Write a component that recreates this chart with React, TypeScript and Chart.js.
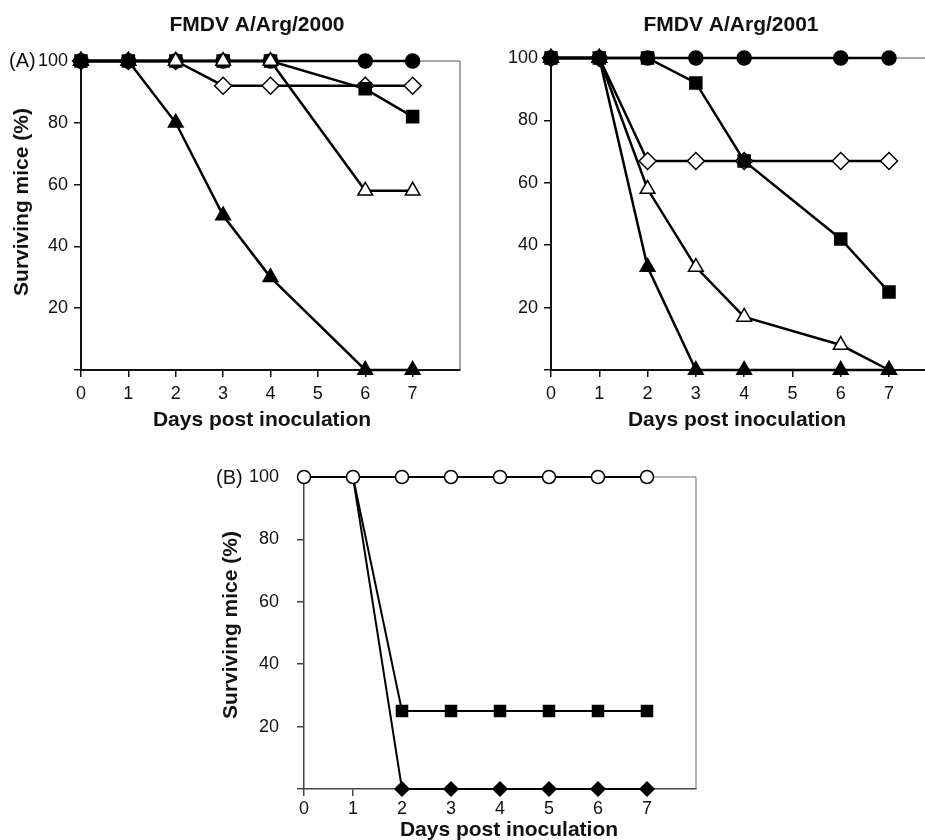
import React, { useEffect, useRef } from 'react';
import { Chart, registerables } from 'chart.js';

Chart.register(...registerables);

// ---------- data ----------
const daysA = [0, 1, 2, 3, 4, 6, 7];
const xTickLabels = ['0', '1', '2', '3', '4', '5', '6', '7', ''];
const yTickLabels = ['', '20', '40', '60', '80', '100'];

// FMDV A/Arg/2000
const arg2000FilledTriangle = [100, 100, 80, 50, 30, 0, 0];
const arg2000OpenTriangle = [100, 100, 100, 100, 100, 58, 58];
const arg2000FilledCircle = [100, 100, 100, 100, 100, 100, 100];
const arg2000FilledSquare = [100, 100, 100, 100, 100, 91, 82];
const arg2000OpenDiamond = [100, 100, 100, 92, 92, 92, 92];

// FMDV A/Arg/2001
const arg2001FilledTriangle = [100, 100, 33, 0, 0, 0, 0];
const arg2001OpenTriangle = [100, 100, 58, 33, 17, 8, 0];
const arg2001FilledCircle = [100, 100, 100, 100, 100, 100, 100];
const arg2001FilledSquare = [100, 100, 100, 92, 67, 42, 25];
const arg2001OpenDiamond = [100, 100, 67, 67, 67, 67, 67];

// Panel B
const daysB = [0, 1, 2, 3, 4, 5, 6, 7];
const bOpenCircle = [100, 100, 100, 100, 100, 100, 100, 100];
const bFilledSquare = [100, 100, 25, 25, 25, 25, 25, 25];
const bFilledDiamond = [100, 100, 0, 0, 0, 0, 0, 0];
const bFirstMarkedDay = 2; // squares/diamonds are hidden behind the circles before this day

const FONT = "'Liberation Sans', Arial, Helvetica, sans-serif";

type TextItem = { text: string; x: number; y: number; size: number; bold?: boolean; rotate?: number; align?: CanvasTextAlign };

const framePlugin = {
  id: 'frame',
  beforeDatasetsDraw(chart: any, _args: any, opts: any) {
    const { left, top, right, bottom } = chart.chartArea;
    const ctx = chart.ctx;
    ctx.save();
    ctx.strokeStyle = opts.color || '#444';
    ctx.lineWidth = opts.width || 1;
    ctx.beginPath();
    ctx.moveTo(left, top);
    ctx.lineTo(right, top);
    ctx.lineTo(right, bottom);
    ctx.stroke();
    ctx.restore();
  },
};

const textPlugin = {
  id: 'extraText',
  afterDraw(chart: any, _args: any, opts: any) {
    const ctx = chart.ctx;
    (opts.items || []).forEach((t: TextItem) => {
      ctx.save();
      ctx.font = `${t.bold ? 'bold ' : ''}${t.size}px ${FONT}`;
      ctx.fillStyle = '#111';
      ctx.textAlign = t.align || 'center';
      ctx.textBaseline = 'middle';
      ctx.translate(t.x, t.y);
      if (t.rotate) ctx.rotate(t.rotate);
      ctx.fillText(t.text, 0, 0);
      ctx.restore();
    });
  },
};

type Series = { values: number[]; style: string; filled: boolean; radius: number; markFrom?: number };
type Spec = {
  days: number[];
  series: Series[];
  lineWidth: number;
  pointBorder: number;
  padding: { left: number; right: number; top: number; bottom: number };
  yAxisWidth: number;
  xAxisHeight: number;
  yTickPadding: number;
  xTickPadding: number;
  axisColor: string;
  axisWidth: number;
  frameColor: string;
  texts: TextItem[];
};

function makeChart(canvas: HTMLCanvasElement, spec: Spec) {
  const tickFont = { family: FONT, size: 18 };
  return new Chart(canvas, {
    type: 'line',
    data: {
      datasets: spec.series.map((s) => {
        const radii = spec.days.map((d) => (s.markFrom !== undefined && d < s.markFrom ? 0 : s.radius));
        return {
          data: spec.days.map((d, i) => ({ x: d, y: s.values[i] })),
          borderColor: '#000',
          borderWidth: spec.lineWidth,
          tension: 0,
          fill: false,
          clip: false,
          pointStyle: s.style as any,
          pointRadius: radii,
          pointHoverRadius: radii,
          pointBackgroundColor: s.filled ? '#000' : '#fff',
          pointBorderColor: '#000',
          pointBorderWidth: spec.pointBorder,
        };
      }),
    },
    options: {
      responsive: false,
      animation: false,
      events: [],
      layout: { padding: spec.padding },
      plugins: {
        legend: { display: false },
        tooltip: { enabled: false },
        title: { display: false },
        frame: { color: spec.frameColor, width: 1 },
        extraText: { items: spec.texts },
      } as any,
      scales: {
        x: {
          type: 'linear',
          min: 0,
          max: 8,
          afterFit: (s: any) => {
            s.height = spec.xAxisHeight;
          },
          ticks: {
            stepSize: 1,
            autoSkip: false,
            maxRotation: 0,
            padding: spec.xTickPadding,
            color: '#111',
            font: tickFont,
            callback: (v: any) => xTickLabels[Number(v)] ?? '',
          },
          grid: {
            drawOnChartArea: false,
            drawTicks: true,
            tickLength: 7,
            lineWidth: 1.5,
            color: (c: any) => (c.tick && c.tick.value === 8 ? 'rgba(0,0,0,0)' : spec.axisColor),
          },
          border: { display: true, color: spec.axisColor, width: spec.axisWidth },
        },
        y: {
          type: 'linear',
          min: 0,
          max: 100,
          afterFit: (s: any) => {
            s.width = spec.yAxisWidth;
          },
          ticks: {
            stepSize: 20,
            padding: spec.yTickPadding,
            color: '#111',
            font: tickFont,
            callback: (_v: any, i: number) => yTickLabels[i] ?? '',
          },
          grid: {
            drawOnChartArea: false,
            drawTicks: true,
            tickLength: 7,
            lineWidth: 1.5,
            color: spec.axisColor,
          },
          border: { display: true, color: spec.axisColor, width: spec.axisWidth },
        },
      },
    },
    plugins: [framePlugin, textPlugin],
  } as any);
}

export default function App() {
  const r1 = useRef<HTMLCanvasElement>(null);
  const r2 = useRef<HTMLCanvasElement>(null);
  const r3 = useRef<HTMLCanvasElement>(null);

  useEffect(() => {
    const topSeries = (tri: number[], otri: number[], circ: number[], sq: number[], dia: number[]): Series[] => [
      { values: tri, style: 'triangle', filled: true, radius: 8.5 },
      { values: otri, style: 'triangle', filled: false, radius: 8.5 },
      { values: circ, style: 'circle', filled: true, radius: 7 },
      { values: sq, style: 'rect', filled: true, radius: 8.5 },
      { values: dia, style: 'rectRot', filled: false, radius: 8.5 },
    ];
    const c1 = makeChart(r1.current!, {
      days: daysA,
      series: topSeries(arg2000FilledTriangle, arg2000OpenTriangle, arg2000FilledCircle, arg2000FilledSquare, arg2000OpenDiamond),
      lineWidth: 2.5,
      pointBorder: 1.5,
      padding: { left: 0, right: 470 - 461.6, top: 61, bottom: 0 },
      yAxisWidth: 81,
      xAxisHeight: 70,
      yTickPadding: 6,
      xTickPadding: 6,
      axisColor: '#111',
      axisWidth: 2,
      frameColor: '#555',
      texts: [
        { text: 'FMDV A/Arg/2000', x: 257, y: 25, size: 21, bold: true },
        { text: 'Days post inoculation', x: 262, y: 420, size: 21, bold: true },
        { text: 'Surviving mice (%)', x: 22, y: 202, size: 21, bold: true, rotate: -Math.PI / 2 },
        { text: '(A)', x: 9, y: 61, size: 20, align: 'left' },
      ],
    });
    const c2 = makeChart(r2.current!, {
      days: daysA,
      series: topSeries(arg2001FilledTriangle, arg2001OpenTriangle, arg2001FilledCircle, arg2001FilledSquare, arg2001OpenDiamond),
      lineWidth: 2.5,
      pointBorder: 1.5,
      padding: { left: 0, right: 950 - 937.3, top: 58, bottom: 0 },
      yAxisWidth: 81,
      xAxisHeight: 70,
      yTickPadding: 6,
      xTickPadding: 6,
      axisColor: '#111',
      axisWidth: 2,
      frameColor: '#555',
      texts: [
        { text: 'FMDV A/Arg/2001', x: 261, y: 25, size: 21, bold: true },
        { text: 'Days post inoculation', x: 267, y: 420, size: 21, bold: true },
      ],
    });
    const c3 = makeChart(r3.current!, {
      days: daysB,
      series: [
        { values: bOpenCircle, style: 'circle', filled: false, radius: 6.5 },
        { values: bFilledSquare, style: 'rect', filled: true, radius: 7.8, markFrom: bFirstMarkedDay },
        { values: bFilledDiamond, style: 'rectRot', filled: true, radius: 7, markFrom: bFirstMarkedDay },
      ],
      lineWidth: 2,
      pointBorder: 1.5,
      padding: { left: 0, right: 710 - 696, top: 37, bottom: 0 },
      yAxisWidth: 124,
      xAxisHeight: 51,
      yTickPadding: 18,
      xTickPadding: 2,
      axisColor: '#444',
      axisWidth: 1.5,
      frameColor: '#666',
      texts: [
        { text: 'Days post inoculation', x: 329, y: 390, size: 21, bold: true },
        { text: 'Surviving mice (%)', x: 51, y: 185, size: 21, bold: true, rotate: -Math.PI / 2 },
        { text: '(B)', x: 36, y: 38, size: 20, align: 'left' },
      ],
    });
    return () => {
      c1.destroy();
      c2.destroy();
      c3.destroy();
    };
  }, []);

  return (
    <div style={{ position: 'absolute', left: 0, top: 0, width: 925, height: 840, overflow: 'hidden', background: '#fff' }}>
      <canvas ref={r1} width={470} height={440} style={{ position: 'absolute', left: 0, top: 0, width: 470, height: 440 }} />
      <canvas ref={r2} width={480} height={440} style={{ position: 'absolute', left: 470, top: 0, width: 480, height: 440 }} />
      <canvas ref={r3} width={530} height={400} style={{ position: 'absolute', left: 180, top: 440, width: 530, height: 400 }} />
    </div>
  );
}
